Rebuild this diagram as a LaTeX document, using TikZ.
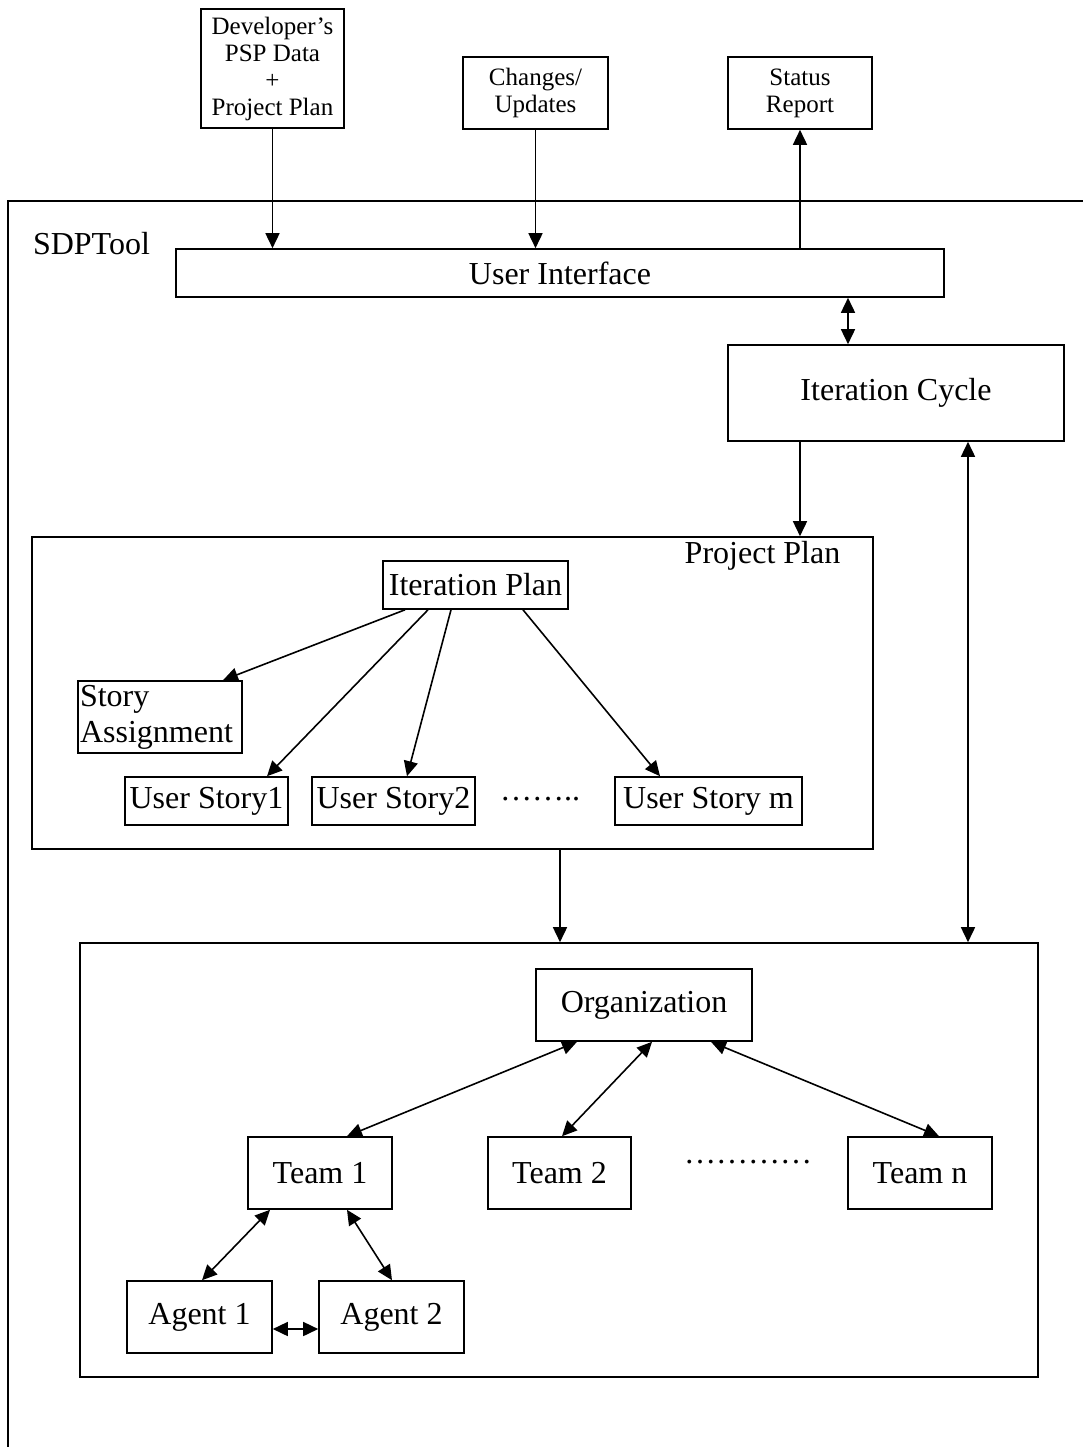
\documentclass[tikz,border=0pt]{standalone}
\usepackage{fontspec}
\setmainfont{Liberation Serif}
\usetikzlibrary{arrows.meta,calc}
\begin{document}
\begin{tikzpicture}[x=1pt,y=-1pt,
  box/.style={draw, line width=1.6pt, inner sep=0pt, align=center},
  big/.style={font=\fontsize{32}{36}\selectfont},
  small/.style={font=\fontsize{25}{27}\selectfont},
  conn/.style={line width=1.6pt},
  arr/.style={conn, -{Triangle[length=15pt,width=14pt]}},
  dbl/.style={conn, {Triangle[length=15pt,width=14pt]}-{Triangle[length=15pt,width=14pt]}}
]
\useasboundingbox (0,0) rectangle (1083,1447);
% outer SDPTool frame
\coordinate (sdpbl) at (8,1447);
\coordinate (sdptl) at (8,201);
\coordinate (sdptr) at (1083,201);
\draw[line width=1.6pt] (sdpbl) -- (sdptl) -- (sdptr);
\node[big] (sdplabel) at (91.5,244) {SDPTool};

% top inputs/outputs
\node[box, small, minimum width=143, minimum height=119] (dev) at (272.5,68.5) {Developer’s\\PSP Data\\+\\Project Plan};
\node[box, small, minimum width=145, minimum height=72] (chg) at (535.5,93) {Changes/\\Updates};
\node[box, small, minimum width=144, minimum height=72] (stat) at (800,93) {Status\\Report};

% user interface & iteration cycle
\node[box, big, minimum width=768, minimum height=48] (ui) at (560,273) {User Interface};
\node[box, big, minimum width=336, minimum height=96] (ic) at (896,393) {Iteration Cycle};

% project plan
\node[box, minimum width=841, minimum height=312] (pp) at (452.5,693) {};
\node[big] (pplabel) at (762.5,556) {Project Plan};
\node[box, big, minimum width=185, minimum height=48] (iplan) at (475.5,585) {Iteration Plan};
\node[box, big, minimum width=164, minimum height=72, text width=160, align=left] (sa) at (160,717) {Story\\Assignment};
\node[box, big, minimum width=163, minimum height=48] (us1) at (206.5,801) {User Story1};
\node[box, big, minimum width=163, minimum height=48] (us2) at (393.5,801) {User Story2};
\node[big] (dots1) at (540,799) {……..};
\node[box, big, minimum width=187, minimum height=48] (usm) at (708.5,801) {User Story m};

% organization
\node[box, minimum width=958, minimum height=434] (orgbox) at (559,1160) {};
\node[box, big, minimum width=216, minimum height=72] (org) at (644,1005) {Organization};
\node[box, big, minimum width=144, minimum height=72] (t1) at (320,1173) {Team 1};
\node[box, big, minimum width=143, minimum height=72] (t2) at (559.5,1173) {Team 2};
\node[big] (dots2) at (748,1162) {…………};
\node[box, big, minimum width=144, minimum height=72] (tn) at (920,1173) {Team n};
\node[box, big, minimum width=145, minimum height=72] (a1) at (199.5,1317) {Agent 1};
\node[box, big, minimum width=145, minimum height=72] (a2) at (391.5,1317) {Agent 2};

% connectors
\draw[arr] (dev.south) -- (dev.south |- ui.north);
\draw[arr] (chg.south) -- (chg.south |- ui.north);
\draw[arr] (ui.north -| stat.south) -- (stat.south);
\draw[dbl] ($(ui.south)+(288,0)$) -- ($(ic.north)+(-48,0)$);
\draw[arr] ($(ic.south)+(-96,0)$) -- ($(pp.north)+(347.5,0)$);
\draw[dbl] ($(ic.south)+(72,0)$) -- ($(orgbox.north)+(409,0)$);

\draw[arr] ($(iplan.south)+(-70.5,0)$) -- ($(sa.north)+(63,0)$);
\draw[arr] ($(iplan.south)+(-47.5,0)$) -- ($(us1.north)+(60.5,0)$);
\draw[arr] ($(iplan.south)+(-24.5,0)$) -- ($(us2.north)+(13.5,0)$);
\draw[arr] ($(iplan.south)+(47.5,0)$) -- ($(usm.north)+(-48.5,0)$);

\draw[arr] ($(pp.south)+(107.5,0)$) -- ($(orgbox.north)+(1,0)$);

\draw[dbl] ($(org.south)+(-67,0)$) -- ($(t1.north)+(27,0)$);
\draw[dbl] ($(org.south)+(8,0)$) -- ($(t2.north)+(2.5,0)$);
\draw[dbl] ($(org.south)+(67,0)$) -- ($(tn.north)+(19,0)$);
\draw[dbl] ($(t1.south)+(-50,0)$) -- ($(a1.north)+(2.5,0)$);
\draw[dbl] ($(t1.south)+(27,0)$) -- ($(a2.north)+(0.5,0)$);
\draw[dbl] ($(a1.east)+(0,12)$) -- ($(a2.west)+(0,12)$);
\end{tikzpicture}
\end{document}
